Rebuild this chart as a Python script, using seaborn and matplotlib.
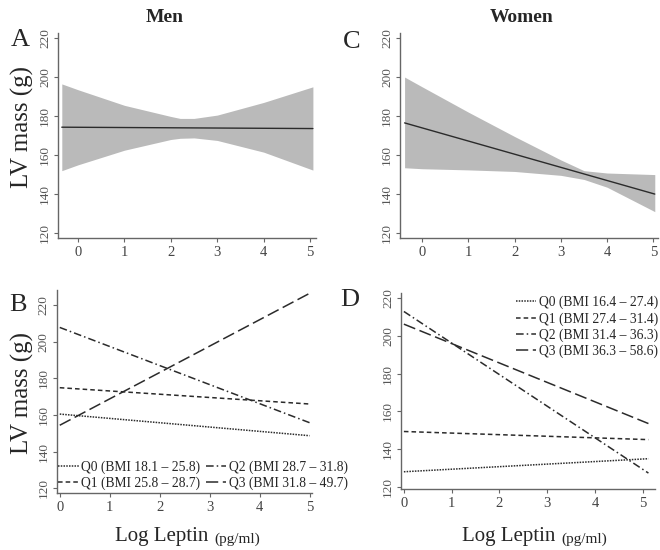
import numpy as np
import pandas as pd
import seaborn as sns
import matplotlib.pyplot as plt

sns.set_style("ticks")
plt.rcParams['font.family'] = ['Liberation Serif', 'DejaVu Serif']

# panel A / C: single regression line with confidence band
men_band_x = [-0.35, 0.0, 1.0, 2.0, 2.2, 2.5, 3.0, 4.0, 5.06]
men_band_lo = [152.0, 155.0, 162.5, 168.0, 168.6, 168.8, 167.5, 161.5, 152.3]
men_band_hi = [196.5, 193.5, 185.5, 179.8, 178.8, 178.8, 180.5, 187.0, 195.0]
men_fit_x = [-0.35, 5.06]
men_fit_y = [174.3, 173.6]

women_band_x = [-0.38, 0.0, 1.0, 2.0, 3.0, 3.5, 4.0, 5.03]
women_band_lo = [153.5, 153.0, 152.4, 151.6, 149.6, 147.5, 143.5, 131.0]
women_band_hi = [200.0, 195.0, 182.0, 169.5, 157.5, 152.0, 150.8, 150.0]
women_fit_x = [-0.38, 5.03]
women_fit_y = [176.5, 140.0]

# panel B / D: lines per BMI quartile
quartiles = ['Q0', 'Q1', 'Q2', 'Q3']
men_labels = ['Q0 (BMI 18.1 \u2013 25.8)', 'Q1 (BMI 25.8 \u2013 28.7)',
              'Q2 (BMI 28.7 \u2013 31.8)', 'Q3 (BMI 31.8 \u2013 49.7)']
men_q_x = [0.0, 5.0]
men_q_start = [160.5, 174.9, 207.8, 154.4]
men_q_end = [148.7, 166.0, 155.8, 226.4]

women_labels = ['Q0 (BMI 16.4 \u2013 27.4)', 'Q1 (BMI 27.4 \u2013 31.4)',
                'Q2 (BMI 31.4 \u2013 36.3)', 'Q3 (BMI 36.3 \u2013 58.6)']
women_q_x = [0.0, 5.12]
women_q_start = [128.1, 149.4, 212.9, 206.2]
women_q_end = [135.0, 145.1, 127.4, 153.6]

line_col = '#2b2b2b'
band_col = '#bababa'
styles = {'Q0': (0, (1, 0.8)), 'Q1': (0, (3, 2)), 'Q2': (0, (5, 2, 1, 2)), 'Q3': (0, (8, 3))}

fig = plt.figure(figsize=(6.6, 5.5), dpi=100)
axA = fig.add_axes([0.088, 0.567, 0.391, 0.373])
axC = fig.add_axes([0.606, 0.567, 0.391, 0.373])
axB = fig.add_axes([0.086, 0.1036, 0.386, 0.369])
axD = fig.add_axes([0.6076, 0.111, 0.385, 0.356])


def style_axis(ax, xlim, ylim):
    ax.set_xlim(*xlim)
    ax.set_ylim(*ylim)
    ax.set_xticks([0, 1, 2, 3, 4, 5])
    ax.set_yticks([120, 140, 160, 180, 200, 220])
    sns.despine(ax=ax)
    for s in ['left', 'bottom']:
        ax.spines[s].set_color('#666666')
        ax.spines[s].set_linewidth(1.0)
    ax.tick_params(axis='x', labelsize=10.5, colors='#666666', labelcolor='#444444', length=3, pad=3)
    ax.tick_params(axis='y', labelsize=9.5, colors='#666666', labelcolor='#555555', length=3, pad=2)
    for lab in ax.get_yticklabels():
        lab.set_rotation(90)
        lab.set_va('center')
    ax.set_xlabel('')
    ax.set_ylabel('')


# A
axA.fill_between(men_band_x, men_band_lo, men_band_hi, color=band_col, lw=0)
sns.lineplot(x=men_fit_x, y=men_fit_y, ax=axA, color=line_col, lw=1.0)
style_axis(axA, (-0.43, 5.13), (117.4, 222.6))

# C
axC.fill_between(women_band_x, women_band_lo, women_band_hi, color=band_col, lw=0)
sns.lineplot(x=women_fit_x, y=women_fit_y, ax=axC, color=line_col, lw=1.0)
style_axis(axC, (-0.48, 5.1), (117.4, 222.6))

# B
for q, lab, y0, y1 in zip(quartiles, men_labels, men_q_start, men_q_end):
    sns.lineplot(x=men_q_x, y=[y0, y1], ax=axB, color=line_col, lw=1.1,
                 linestyle=styles[q], label=lab)
style_axis(axB, (-0.06, 5.04), (117.4, 228.2))
legB = axB.legend(handles=axB.get_lines(), labels=men_labels, ncol=2, loc='lower left',
                  bbox_to_anchor=(-0.005, 0.0), frameon=False, fontsize=9.8,
                  handlelength=1.5, handletextpad=0.2, columnspacing=0.4,
                  labelspacing=0.2, borderpad=0.1, borderaxespad=0.1)
legB.set_clip_on(False)

# D
for q, lab, y0, y1 in zip(quartiles, women_labels, women_q_start, women_q_end):
    sns.lineplot(x=women_q_x, y=[y0, y1], ax=axD, color=line_col, lw=1.1,
                 linestyle=styles[q], label=lab)
style_axis(axD, (-0.06, 5.26), (119.0, 222.6))
axD.legend(handles=axD.get_lines(), labels=women_labels, loc='upper left',
           bbox_to_anchor=(0.44, 1.0), frameon=False, fontsize=9.8,
           handlelength=1.5, handletextpad=0.2, labelspacing=0.2,
           borderpad=0.1, borderaxespad=0.1)

# titles, panel letters, axis labels
fig.text(165 / 660, 1 - 17 / 550, 'Men', ha='center', va='center', fontsize=14, fontweight='bold')
fig.text(522 / 660, 1 - 18 / 550, 'Women', ha='center', va='center', fontsize=14, fontweight='bold')
for letter, (px, py) in zip('ACBD', [(20, 40), (352, 42), (18, 305), (350, 300)]):
    fig.text(px / 660, 1 - py / 550, letter, ha='center', va='center', fontsize=19)

for cy in [127, 393]:
    fig.text(22 / 660, 1 - cy / 550, 'LV mass (g)', rotation=90, ha='center', va='center', fontsize=18)

for split in [214, 561]:
    fig.text(split / 660, 1 - 537 / 550, 'Log Leptin ', ha='right', va='center', fontsize=15)
    fig.text(split / 660, 1 - 539 / 550, '(pg/ml)', ha='left', va='center', fontsize=11)

fig.savefig('out.png', dpi=100)
